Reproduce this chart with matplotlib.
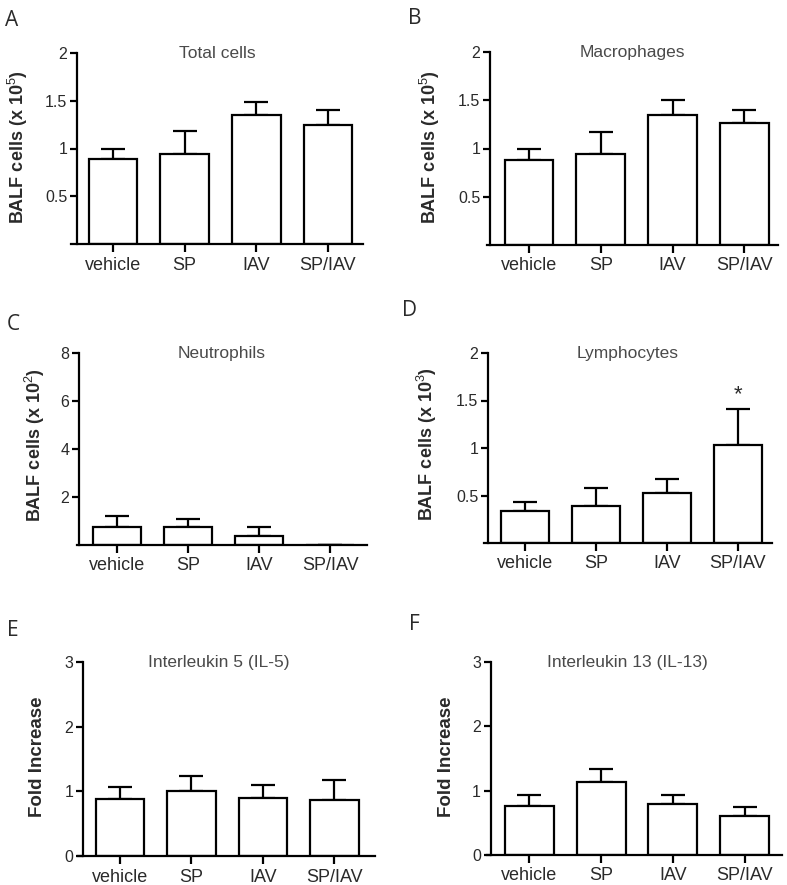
import matplotlib
matplotlib.use("Agg")
import matplotlib.pyplot as plt
import numpy as np

plt.rcParams['font.family'] = ['Liberation Sans', 'DejaVu Sans']
plt.rcParams['mathtext.fontset'] = 'custom'
plt.rcParams['mathtext.rm'] = 'Liberation Sans'
plt.rcParams['mathtext.bf'] = 'Liberation Sans:bold'

categories = ["vehicle", "SP", "IAV", "SP/IAV"]

total_mean = [0.89, 0.94, 1.35, 1.25]
total_err = [0.11, 0.24, 0.14, 0.15]

macro_mean = [0.885, 0.94, 1.35, 1.26]
macro_err = [0.105, 0.23, 0.15, 0.14]

neutro_mean = [0.76, 0.74, 0.38, 0.0]
neutro_err = [0.46, 0.34, 0.35, 0.0]

lympho_mean = [0.34, 0.39, 0.53, 1.03]
lympho_err = [0.09, 0.19, 0.14, 0.38]

il5_mean = [0.88, 1.01, 0.90, 0.87]
il5_err = [0.19, 0.22, 0.20, 0.31]

il13_mean = [0.76, 1.14, 0.80, 0.60]
il13_err = [0.17, 0.19, 0.14, 0.15]

star_value = 1.56

W, H = 787, 885
fig = plt.figure(figsize=(W / 100, H / 100), dpi=100)

def add_axes_px(left, right, top, bottom):
    return fig.add_axes([left / W, 1 - bottom / H, (right - left) / W, (bottom - top) / H])

panels = [
    dict(letter="A", title="Total cells", mean=total_mean, err=total_err,
         ylabel=r"BALF cells (x 10$^{5}$)", ylim=2, yticks=[0.5, 1, 1.5, 2],
         yticklabels=["0.5", "1", "1.5", "2"],
         box=(71, 363, 53, 244), xlim=(-0.586, 3.49), yspine=-0.50,
         letter_xy=(12, 21), ylabel_xy=(18, 147), title_dx=0.0, ylsize=13),
    dict(letter="B", title="Macrophages", mean=macro_mean, err=macro_err,
         ylabel=r"BALF cells (x 10$^{5}$)", ylim=2, yticks=[0.5, 1, 1.5, 2],
         yticklabels=["0.5", "1", "1.5", "2"],
         box=(487, 778, 52, 245), xlim=(-0.586, 3.47), yspine=-0.544,
         letter_xy=(415, 19), ylabel_xy=(430, 147), title_dx=0.0, ylsize=13),
    dict(letter="C", title="Neutrophils", mean=neutro_mean, err=neutro_err,
         ylabel=r"BALF cells (x 10$^{2}$)", ylim=8, yticks=[2, 4, 6, 8],
         yticklabels=["2", "4", "6", "8"],
         box=(77, 367, 353, 545), xlim=(-0.563, 3.52), yspine=-0.535,
         letter_xy=(13, 325), ylabel_xy=(35, 445), title_dx=0.0, ylsize=13),
    dict(letter="D", title="Lymphocytes", mean=lympho_mean, err=lympho_err,
         ylabel=r"BALF cells (x 10$^{3}$)", ylim=2, yticks=[0.5, 1, 1.5, 2],
         yticklabels=["0.5", "1", "1.5", "2"],
         box=(484, 772, 353, 543), xlim=(-0.578, 3.48), yspine=-0.52,
         letter_xy=(410, 310), ylabel_xy=(427, 444), title_dx=0.0, ylsize=13),
    dict(letter="E", title="Interleukin 5 (IL-5)", mean=il5_mean, err=il5_err,
         ylabel="Fold Increase", ylim=3, yticks=[0, 1, 2, 3],
         yticklabels=["0", "1", "2", "3"],
         box=(78, 375, 662, 856), xlim=(-0.588, 3.57), yspine=-0.518,
         letter_xy=(13, 631), ylabel_xy=(38, 757), title_dx=-0.025, ylsize=13.5),
    dict(letter="F", title="Interleukin 13 (IL-13)", mean=il13_mean, err=il13_err,
         ylabel="Fold Increase", ylim=3, yticks=[0, 1, 2, 3],
         yticklabels=["0", "1", "2", "3"],
         box=(487, 782, 662, 855), xlim=(-0.59, 3.52), yspine=-0.54,
         letter_xy=(414, 624), ylabel_xy=(447, 757), title_dx=-0.025, ylsize=13.5),
]

text_col = "#2a2a2a"
title_col = "#4a4a4a"

for p in panels:
    ax = add_axes_px(*p["box"])
    x = np.arange(len(categories))
    ax.bar(x, p["mean"], width=0.68, color="white", edgecolor="black",
           linewidth=1.6, zorder=2)
    ax.errorbar(x, p["mean"], yerr=[np.zeros(len(x)), p["err"]], fmt="none",
                ecolor="black", elinewidth=1.6, capsize=8.5, capthick=1.6, zorder=1)
    ax.set_xlim(*p["xlim"])
    ax.set_ylim(0, p["ylim"])
    for s in ["top", "right"]:
        ax.spines[s].set_visible(False)
    ax.spines["left"].set_position(("data", p["yspine"]))
    ax.spines["left"].set_linewidth(1.6)
    ax.spines["bottom"].set_linewidth(1.6)
    ax.set_xticks(x)
    ax.set_xticklabels(categories, fontsize=13, color=text_col)
    ax.set_yticks(p["yticks"])
    ax.set_yticklabels(p["yticklabels"], fontsize=11.5, color=text_col)
    ax.tick_params(axis="x", length=6, width=1.6, pad=3)
    ax.tick_params(axis="y", length=5, width=1.6, pad=2)
    ax.patch.set_alpha(0)
    ax.text(0.5 + p["title_dx"], 0.995, p["title"], transform=ax.transAxes,
            ha="center", va="center", fontsize=12.5, color=title_col)
    lx, ly = p["letter_xy"]
    fig.text(lx / W, 1 - ly / H, p["letter"], ha="center", va="center",
             fontsize=15, color=text_col, family=["Open Sans", "DejaVu Sans"])
    yx, yy = p["ylabel_xy"]
    fig.text(yx / W, 1 - yy / H, p["ylabel"], rotation=90, ha="center", va="center",
             fontsize=p["ylsize"], fontweight="bold", color=text_col)
    if p["letter"] == "D":
        ax.text(3, star_value, "*", ha="center", va="center", fontsize=16, color=text_col)

fig.savefig("out.png", dpi=100)
